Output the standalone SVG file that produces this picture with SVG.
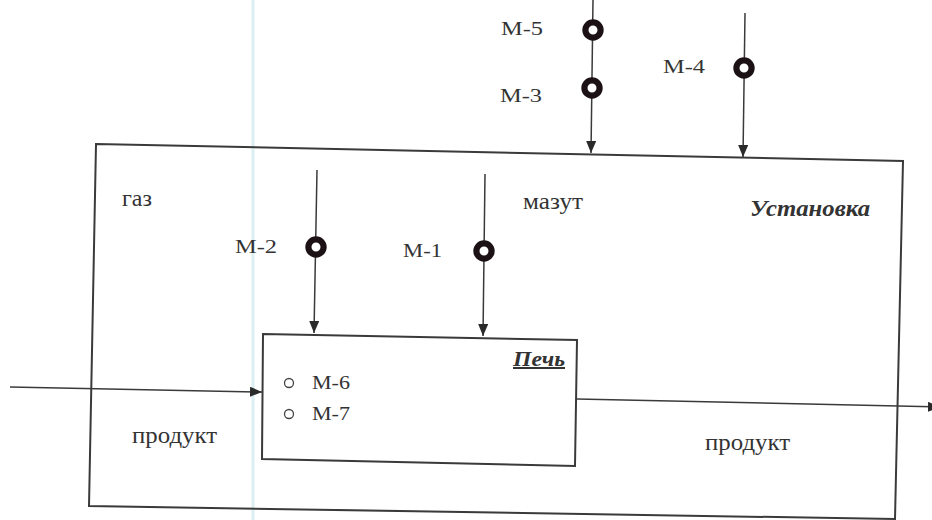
<svg xmlns="http://www.w3.org/2000/svg" width="932" height="520" viewBox="0 0 932 520">
  <style>
    .bg{fill:#ffffff}
    .scan{stroke:#dcf0f4;stroke-width:3;fill:none}
    .box{fill:none;stroke:#3a3a3a;stroke-width:2}
    .ln{fill:none;stroke:#3a3a3a;stroke-width:1.5}
    .ring{fill:#ffffff;stroke:#1c1216;stroke-width:6.2}
    .dot{fill:none;stroke:#444;stroke-width:1.3}
    .t{font-family:"Liberation Serif","Times New Roman",serif;fill:#333333}
    .m{font-size:19px}
    .w{font-size:23px}
    .bi{font-weight:bold;font-style:italic}
  </style>
  <defs>
    <marker id="arr" markerUnits="userSpaceOnUse" markerWidth="12" markerHeight="10" refX="12" refY="5" orient="auto">
      <path d="M0,0 L12,5 L0,10 z" fill="#2a2a2a"/>
    </marker>
  </defs>

  <rect class="bg" x="0" y="0" width="932" height="520"/>
  <line class="scan" x1="253" y1="0" x2="253" y2="520"/>

  <g id="installation">
    <polygon class="box" points="96,144 903,161 895,519 89,506"/>
    <text class="t w bi" x="750" y="216" textLength="120" lengthAdjust="spacingAndGlyphs">Установка</text>
  </g>

  <g id="furnace">
    <polygon class="box" points="263,334 577,340 575,466 262,459"/>
    <text class="t bi" x="513" y="366" font-size="20" textLength="52" lengthAdjust="spacingAndGlyphs" text-decoration="underline">Печь</text>
    <circle class="dot" cx="289" cy="383" r="4.5"/>
    <text class="t m" x="312" y="389" textLength="38" lengthAdjust="spacingAndGlyphs">M-6</text>
    <circle class="dot" cx="289" cy="414" r="4.5"/>
    <text class="t m" x="312" y="420" textLength="38" lengthAdjust="spacingAndGlyphs">M-7</text>
  </g>

  <g id="connectors">
    <line class="ln" x1="593" y1="0" x2="591" y2="153" marker-end="url(#arr)"/>
    <line class="ln" x1="745" y1="13" x2="743" y2="157" marker-end="url(#arr)"/>
    <line class="ln" x1="317" y1="170" x2="314" y2="333" marker-end="url(#arr)"/>
    <line class="ln" x1="485" y1="174" x2="483" y2="336" marker-end="url(#arr)"/>
    <line class="ln" x1="10" y1="387" x2="262" y2="392" marker-end="url(#arr)"/>
    <line class="ln" x1="577" y1="399" x2="940" y2="407" marker-end="url(#arr)"/>
  </g>

  <g id="stream-labels">
    <text class="t w" x="122" y="206" textLength="30" lengthAdjust="spacingAndGlyphs">газ</text>
    <text class="t w" x="523" y="209" textLength="60" lengthAdjust="spacingAndGlyphs">мазут</text>
    <text class="t w" x="132" y="443" textLength="85" lengthAdjust="spacingAndGlyphs">продукт</text>
    <text class="t w" x="705" y="450" textLength="85" lengthAdjust="spacingAndGlyphs">продукт</text>
  </g>

  <g id="M-5">
    <circle class="ring" cx="593" cy="30" r="7.6"/>
    <text class="t m" x="501" y="35" textLength="42" lengthAdjust="spacingAndGlyphs">M-5</text>
  </g>
  <g id="M-3">
    <circle class="ring" cx="592" cy="88" r="7.6"/>
    <text class="t m" x="500" y="102" textLength="42" lengthAdjust="spacingAndGlyphs">M-3</text>
  </g>
  <g id="M-4">
    <circle class="ring" cx="744" cy="68" r="7.6"/>
    <text class="t m" x="663" y="73" textLength="42" lengthAdjust="spacingAndGlyphs">M-4</text>
  </g>
  <g id="M-2">
    <circle class="ring" cx="316" cy="247" r="7.6"/>
    <text class="t m" x="235" y="253" textLength="42" lengthAdjust="spacingAndGlyphs">M-2</text>
  </g>
  <g id="M-1">
    <circle class="ring" cx="484" cy="251" r="7.6"/>
    <text class="t m" x="403" y="257" textLength="39" lengthAdjust="spacingAndGlyphs">M-1</text>
  </g>
</svg>
